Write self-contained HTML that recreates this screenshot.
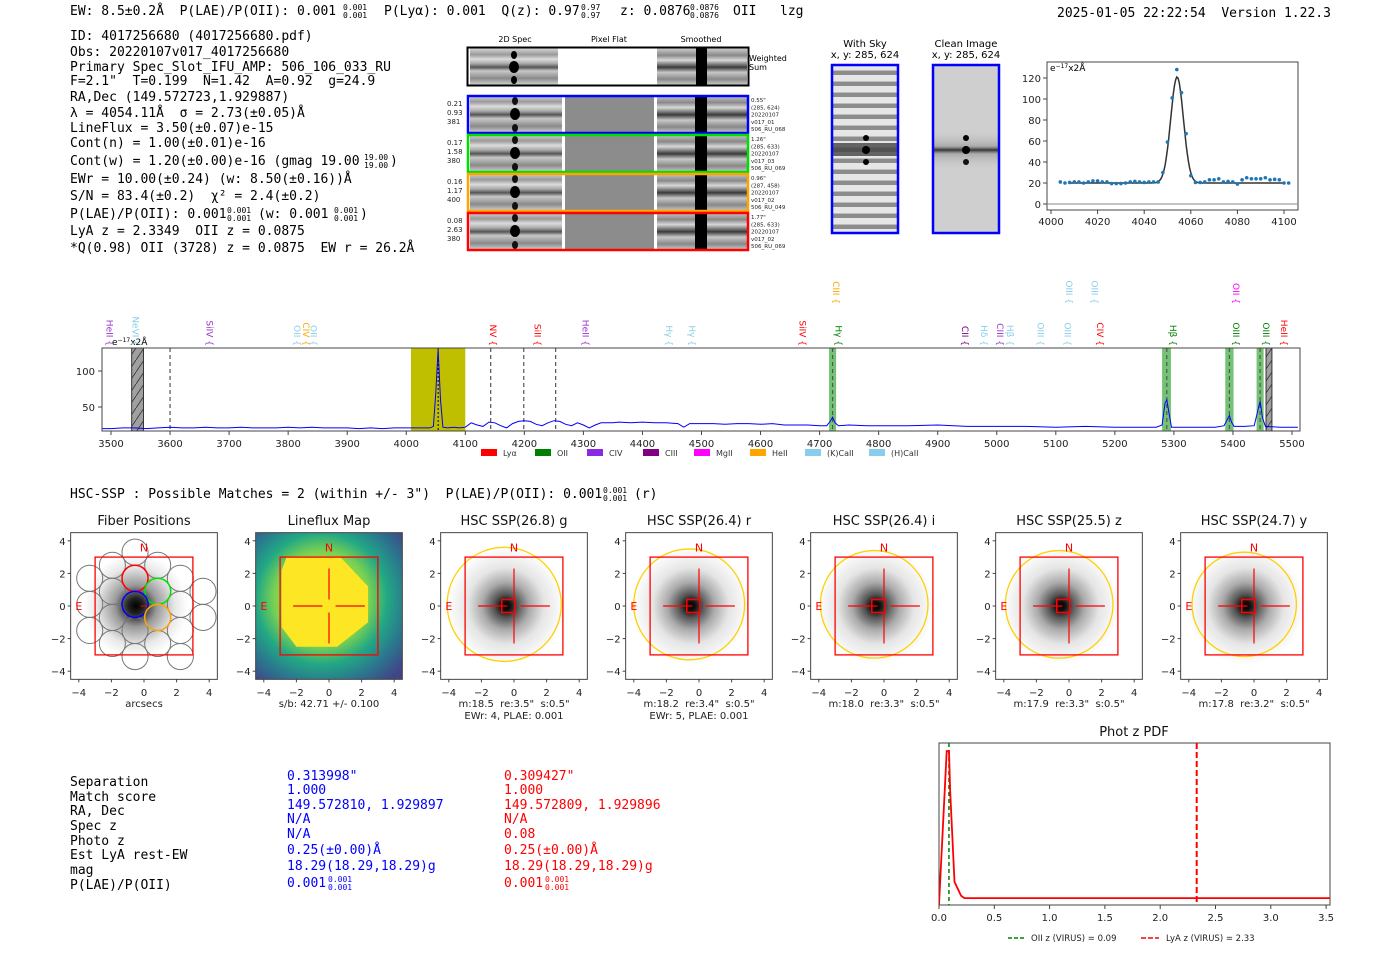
<!DOCTYPE html>
<html><head><meta charset="utf-8"><style>
html,body{margin:0;padding:0;background:#fff}
svg text{font-family:"DejaVu Sans","Liberation Sans",sans-serif;white-space:pre}
svg .mono text{font-family:"DejaVu Sans Mono","Liberation Mono",monospace}
.mono{font-size:13px}
.tk{font-size:10px;fill:#222}
.tt{font-size:13px;fill:#111}
</style></head><body>
<svg id="root" xmlns="http://www.w3.org/2000/svg" xml:space="preserve" width="1400" height="953" viewBox="0 0 1400 953">
<defs>
<linearGradient id="stripe" x1="0" y1="0" x2="0" y2="1">
<stop offset="0" stop-color="#d8d8d8"/><stop offset="0.18" stop-color="#9a9a9a"/><stop offset="0.3" stop-color="#dcdcdc"/><stop offset="0.42" stop-color="#aaa"/><stop offset="0.52" stop-color="#555"/><stop offset="0.62" stop-color="#c8c8c8"/><stop offset="0.82" stop-color="#8a8a8a"/><stop offset="1" stop-color="#d4d4d4"/>
</linearGradient>
<linearGradient id="stripeS" x1="0" y1="0" x2="0" y2="1">
<stop offset="0" stop-color="#d0d0d0"/><stop offset="0.2" stop-color="#888"/><stop offset="0.33" stop-color="#d8d8d8"/><stop offset="0.52" stop-color="#3a3a3a"/><stop offset="0.66" stop-color="#c8c8c8"/><stop offset="0.84" stop-color="#888"/><stop offset="1" stop-color="#ccc"/>
</linearGradient>
<pattern id="skyP" width="68" height="11" patternUnits="userSpaceOnUse">
<rect width="68" height="11" fill="#e6e6e6"/><rect y="5" width="68" height="4" fill="#8c8c8c"/><rect y="4" width="68" height="1" fill="#bbb"/>
</pattern>
<linearGradient id="cleanBand" x1="0" y1="0" x2="0" y2="1">
<stop offset="0" stop-color="#ccc" stop-opacity="0"/><stop offset="0.4" stop-color="#888" stop-opacity="0.5"/><stop offset="0.5" stop-color="#333"/><stop offset="0.6" stop-color="#888" stop-opacity="0.5"/><stop offset="1" stop-color="#ccc" stop-opacity="0"/>
</linearGradient>
<radialGradient id="blob"><stop offset="0" stop-color="#000"/><stop offset="0.08" stop-color="#111"/><stop offset="0.2" stop-color="#555"/><stop offset="0.4" stop-color="#aaa"/><stop offset="0.65" stop-color="#e5e5e5"/><stop offset="1" stop-color="#fff"/></radialGradient>
<radialGradient id="fblob"><stop offset="0" stop-color="#000"/><stop offset="0.15" stop-color="#222"/><stop offset="0.4" stop-color="#999"/><stop offset="0.75" stop-color="#e8e8e8"/><stop offset="1" stop-color="#fff"/></radialGradient>
<radialGradient id="viri" cx="0.45" cy="0.45" r="0.72"><stop offset="0" stop-color="#fde725"/><stop offset="0.45" stop-color="#7ad151"/><stop offset="0.62" stop-color="#22a884"/><stop offset="0.8" stop-color="#2a788e"/><stop offset="1" stop-color="#414487"/></radialGradient>
<pattern id="hatch" width="8" height="12" patternUnits="userSpaceOnUse"><rect width="8" height="12" fill="#a0a0a0"/><line x1="0" y1="12" x2="8" y2="0" stroke="#333" stroke-width="0.8"/></pattern>
<clipPath id="specClip"><rect x="102" y="348" width="1198" height="83"/></clipPath>
<clipPath id="fitClip"><rect x="1047" y="62" width="251" height="148"/></clipPath>
<clipPath id="pdfClip"><rect x="939" y="743" width="391" height="162"/></clipPath>
</defs>

<g class="mono">
<text x="70" y="15">EW: 8.5±0.2Å  P(LAE)/P(OII): 0.001</text>
<text x="343" y="10" font-size="8">0.001</text><text x="343" y="18" font-size="8">0.001</text>
<text x="384" y="15">P(Lyα): 0.001  Q(z): 0.97</text>
<text x="581" y="10" font-size="8">0.97</text><text x="581" y="18" font-size="8">0.97</text>
<text x="620" y="15">z: 0.0876</text>
<text x="690" y="10" font-size="8">0.0876</text><text x="690" y="18" font-size="8">0.0876</text>
<text x="733" y="15">OII</text><text x="780" y="15">lzg</text>
<text x="1057" y="17">2025-01-05 22:22:54  Version 1.22.3</text>
</g>

<g class="mono">
<text x="70" y="40">ID: 4017256680 (4017256680.pdf)</text>
<text x="70" y="56">Obs: 20220107v017_4017256680</text>
<text x="70" y="71">Primary Spec_Slot_IFU_AMP: 506_106_033_RU</text>
<text x="70" y="85">F=2.1"  T=0.199  N=1.42  A=0.92  g=24.9</text>
<text x="70" y="101">RA,Dec (149.572723,1.929887)</text>
<text x="70" y="117">λ = 4054.11Å  σ = 2.73(±0.05)Å</text>
<text x="70" y="132">LineFlux = 3.50(±0.07)e-15</text>
<text x="70" y="147">Cont(n) = 1.00(±0.01)e-16</text>
<text x="70" y="165">Cont(w) = 1.20(±0.00)e-16 (gmag 19.00</text><text x="364" y="160" font-size="8">19.00</text><text x="364" y="168" font-size="8">19.00</text><text x="390" y="165">)</text>
<text x="70" y="183">EWr = 10.00(±0.24) (w: 8.50(±0.16))Å</text>
<text x="70" y="200">S/N = 83.4(±0.2)  χ² = 2.4(±0.2)</text>
<text x="70" y="218">P(LAE)/P(OII): 0.001</text><text x="227" y="213" font-size="8">0.001</text><text x="227" y="221" font-size="8">0.001</text>
<text x="258" y="218">(w: 0.001</text><text x="334" y="213" font-size="8">0.001</text><text x="334" y="221" font-size="8">0.001</text><text x="360" y="218">)</text>
<text x="70" y="235">LyA z = 2.3349  OII z = 0.0875</text>
<text x="70" y="252">*Q(0.98) OII (3728) z = 0.0875  EW r = 26.2Å</text>
</g>

<g>
<text x="515" y="42" font-size="8" text-anchor="middle">2D Spec</text>
<text x="609" y="42" font-size="8" text-anchor="middle">Pixel Flat</text>
<text x="701" y="42" font-size="8" text-anchor="middle">Smoothed</text>
<g>
<rect x="470" y="48" width="88" height="37" fill="url(#stripe)"/>
<rect x="657" y="48" width="90" height="37" fill="url(#stripeS)"/>
<rect x="696" y="48" width="11" height="37" fill="#000"/>
<ellipse cx="514" cy="67" rx="5" ry="6" fill="#000"/><ellipse cx="514" cy="55" rx="3" ry="4" fill="#000"/><ellipse cx="514" cy="80" rx="3" ry="4" fill="#000"/>
<rect x="467.5" y="47.5" width="281" height="38" fill="none" stroke="#000" stroke-width="2"/>
<text x="749" y="61" font-size="8">Weighted</text><text x="749" y="70" font-size="8">Sum</text>
</g>
</g>

<g>
<text x="865" y="47" font-size="10" text-anchor="middle">With Sky</text>
<text x="865" y="58" font-size="10" text-anchor="middle">x, y: 285, 624</text>
<rect x="831" y="64" width="68" height="170" fill="url(#skyP)"/>
<rect x="831" y="143" width="68" height="13" fill="#444" opacity="0.8"/>
<ellipse cx="866" cy="138" rx="3" ry="3" fill="#000"/><ellipse cx="866" cy="150" rx="4" ry="4" fill="#000"/><ellipse cx="866" cy="162" rx="3" ry="3" fill="#000"/>
<rect x="832" y="65" width="66" height="168" fill="none" stroke="#0000ff" stroke-width="2.5"/>
</g>
<g>
<text x="966" y="47" font-size="10" text-anchor="middle">Clean Image</text>
<text x="966" y="58" font-size="10" text-anchor="middle">x, y: 285, 624</text>
<rect x="932" y="64" width="68" height="170" fill="#cfcfcf"/>
<rect x="932" y="130" width="68" height="40" fill="url(#cleanBand)"/>
<ellipse cx="966" cy="138" rx="3" ry="3" fill="#000"/><ellipse cx="966" cy="150" rx="4" ry="4" fill="#000"/><ellipse cx="966" cy="162" rx="3" ry="3" fill="#111"/>
<rect x="933" y="65" width="66" height="168" fill="none" stroke="#0000ff" stroke-width="2.5"/>
</g>

<g id="fitPlot">
<rect x="1047" y="62" width="251" height="148" fill="#fff" stroke="#444" stroke-width="1"/>
<text x="1050" y="71" font-size="9">e<tspan font-size="6" dy="-3">−17</tspan><tspan dy="3">x2Å</tspan></text>
</g>

<g id="specPlot">
<text x="112" y="345" font-size="9">e<tspan font-size="6" dy="-3">−17</tspan><tspan dy="3">x2Å</tspan></text>
</g>

<g class="mono">
<text x="70" y="498">HSC-SSP : Possible Matches = 2 (within +/- 3")  P(LAE)/P(OII): 0.001</text>
<text x="603" y="493" font-size="8">0.001</text><text x="603" y="501" font-size="8">0.001</text>
<text x="634" y="498">(r)</text>
</g>
<g id="panels"></g>

<g class="mono">
<g>
<text x="70" y="786">Separation</text><text x="70" y="801">Match score</text><text x="70" y="815">RA, Dec</text><text x="70" y="830">Spec z</text><text x="70" y="845">Photo z</text><text x="70" y="859">Est LyA rest-EW</text><text x="70" y="874">mag</text><text x="70" y="889">P(LAE)/P(OII)</text>
</g>
<g fill="#0000ff">
<text x="287" y="780">0.313998"</text><text x="287" y="794">1.000</text><text x="287" y="809">149.572810, 1.929897</text><text x="287" y="823">N/A</text><text x="287" y="838">N/A</text><text x="287" y="854">0.25(±0.00)Å</text><text x="287" y="870">18.29(18.29,18.29)g</text><text x="287" y="887">0.001</text><text x="328" y="882" font-size="8">0.001</text><text x="328" y="890" font-size="8">0.001</text>
</g>
<g fill="#ff0000">
<text x="504" y="780">0.309427"</text><text x="504" y="794">1.000</text><text x="504" y="809">149.572809, 1.929896</text><text x="504" y="823">N/A</text><text x="504" y="838">0.08</text><text x="504" y="854">0.25(±0.00)Å</text><text x="504" y="870">18.29(18.29,18.29)g</text><text x="504" y="887">0.001</text><text x="545" y="882" font-size="8">0.001</text><text x="545" y="890" font-size="8">0.001</text>
</g>
</g>

<g id="pdfPlot">
<text x="1134" y="736" class="tt" text-anchor="middle">Phot z PDF</text>
<rect x="939" y="743" width="391" height="162" fill="#fff" stroke="#444"/>
</g>
</svg>

<script>
const specWave=[3480,3500,3520,3540,3560,3580,3600,3620,3640,3660,3680,3700,3720,3740,3760,3780,3800,3820,3840,3860,3880,3900,3920,3940,3960,3980,4000,4020,4040,4046,4050,4054,4058,4062,4070,4080,4090,4100,4110,4120,4130,4140,4150,4160,4170,4180,4190,4200,4210,4220,4230,4240,4250,4260,4270,4280,4290,4300,4310,4320,4330,4340,4350,4360,4380,4400,4420,4440,4460,4470,4480,4500,4520,4540,4560,4580,4600,4620,4640,4660,4680,4700,4712,4718,4722,4726,4732,4750,4780,4800,4850,4900,4950,5000,5050,5100,5150,5200,5250,5270,5280,5285,5288,5292,5296,5310,5340,5370,5385,5390,5394,5398,5402,5420,5436,5442,5446,5450,5455,5480,5510];
const specFlux=[20,20,21,21,20,21,22,21,21,22,21,21,22,21,21,21,22,21,22,21,21,21,20,21,20,21,21,21,21,23,70,130,60,22,21,22,21,22,28,25,23,29,28,24,21,27,30,31,30,26,24,28,31,30,26,24,28,25,21,25,28,28,28,29,28,29,28,28,27,22,27,27,27,26,27,27,26,27,25,25,25,24,24,30,36,28,24,25,24,24,24,25,23,23,23,22,23,22,22,22,25,55,60,40,22,22,22,22,24,32,38,28,23,23,24,45,58,35,23,22,22];
const specTicksX=[3500,3600,3700,3800,3900,4000,4100,4200,4300,4400,4500,4600,4700,4800,4900,5000,5100,5200,5300,5400,5500];
const specTicksY=[50,100];
const bandStart=[3535,4008,4716,5280,5387,5440,5456];
const bandEnd=[3555,4100,4728,5295,5401,5452,5466];
const bandKind=['mask','fit','line','line','line','line','mask'];
const dashWave=[3600,4143,4199,4253,4722,5288,5394,5446];
const lineWave=[3487,3531,3657,3805,3820,3833,4137,4212,4293,4435,4474,4661,4718,4722,4936,4968,4995,5012,5064,5110,5112,5155,5165,5288,5395,5395,5446,5476];
const lineName=['HeII','NeVI','SiIV','OII','CIV','OII','NV','SiII','HeII','Hγ','Hγ','SiIV','CIII','Hγ','CII','Hδ','CIII','Hβ','OIII','OIII','OIII','OIII','CIV','Hβ','OII','OIII','OIII','HeII'];
const lineColor=['#9932cc','#87ceeb','#9932cc','#87ceeb','#ffa500','#87ceeb','#ff0000','#ff0000','#9932cc','#87ceeb','#87ceeb','#ff0000','#ffa500','#008000','#800080','#87ceeb','#9932cc','#87ceeb','#87ceeb','#87ceeb','#87ceeb','#87ceeb','#ff0000','#008000','#ff00ff','#008000','#008000','#ff0000'];
const lineRow=[1,1,1,1,1,1,1,1,1,1,1,1,0,1,1,1,1,1,1,1,0,0,1,1,0,1,1,1];
const legendNames=['Lyα','OII','CIV','CIII','MgII','HeII','(K)CaII','(H)CaII'];
const legendColors=['#ff0000','#008000','#8a2be2','#800080','#ff00ff','#ffa500','#87ceeb','#87ceeb'];

const fitWave=[4004,4006,4008,4010,4012,4014,4016,4018,4020,4022,4024,4026,4028,4030,4032,4034,4036,4038,4040,4042,4044,4046,4048,4050,4052,4054,4056,4058,4060,4062,4064,4066,4068,4070,4072,4074,4076,4078,4080,4082,4084,4086,4088,4090,4092,4094,4096,4098,4100,4102];
const fitFlux=[21,20,20.5,21,21,20,21,22,22,21,21,19.5,19.5,19.5,20,21,21.5,21,20.5,21,21,21,30,59,101,128,106,67,27,20.5,20.5,21,23,23,24,21,21.5,21,19,23,25,24,24,24,25,23,23.5,23,20,20];
const fitCenter=[4054.11], fitSigma=[2.73], fitAmp=[101], fitCont=[20];
const fitTicksX=[4000,4020,4040,4060,4080,4100];
const fitTicksY=[0,20,40,60,80,100,120];

const pdfZ=[0,0.07,0.09,0.1,0.14,0.2,0.23,3.6];
const pdfP=[0,1.0,1.0,0.75,0.15,0.06,0.045,0.045];
const pdfTicks=[0,0.5,1.0,1.5,2.0,2.5,3.0,3.5];
const oiiZ=[0.09], lyaZ=[2.33];

const panelTitles=['Fiber Positions','Lineflux Map','HSC SSP(26.8) g','HSC SSP(26.4) r','HSC SSP(26.4) i','HSC SSP(25.5) z','HSC SSP(24.7) y'];
const panelSub1=['arcsecs','s/b: 42.71 +/- 0.100','m:18.5  re:3.5"  s:0.5"','m:18.2  re:3.4"  s:0.5"','m:18.0  re:3.3"  s:0.5"','m:17.9  re:3.3"  s:0.5"','m:17.8  re:3.2"  s:0.5"'];
const panelSub2=['','','EWr: 4, PLAE: 0.001','EWr: 5, PLAE: 0.001','','',''];
const apRadius=[0,0,3.5,3.4,3.3,3.3,3.2];

const NS='http://www.w3.org/2000/svg';
function mk(tag,attrs,parent){const e=document.createElementNS(NS,tag);for(const k in attrs)e.setAttribute(k,attrs[k]);parent.appendChild(e);return e;}
function txt(s,attrs,parent){const e=mk('text',attrs,parent);e.textContent=s;return e;}

const root=document.getElementById('root');
const rowTop=[95,134,173,212];
const rowColor=['#0000ff','#00e000','#ffa500','#ff0000'];
const rowL=[['0.21','0.93','381'],['0.17','1.58','380'],['0.16','1.17','400'],['0.08','2.63','380']];
const rowR=[['0.55"','(285, 624)','20220107','v017_01','506_RU_068'],['1.26"','(285, 633)','20220107','v017_03','506_RU_069'],['0.96"','(287, 458)','20220107','v017_02','506_RU_049'],['1.77"','(285, 633)','20220107','v017_02','506_RU_069']];
for(let i=0;i<4;i++){
  const t=rowTop[i];
  const g=mk('g',{},root);
  
  
  mk('rect',{x:470,y:t,width:92,height:38,fill:'url(#stripe)'},g);
  mk('rect',{x:565,y:t,width:89,height:38,fill:'#8c8c8c'},g);
  mk('rect',{x:657,y:t,width:90,height:38,fill:'url(#stripeS)'},g);
  mk('rect',{x:695,y:t,width:12,height:38,fill:'#000'},g);
  mk('ellipse',{cx:515,cy:t+19,rx:5,ry:6,fill:'#000'},g);
  mk('ellipse',{cx:515,cy:t+6,rx:3,ry:4,fill:'#111'},g);
  mk('ellipse',{cx:515,cy:t+33,rx:3,ry:4,fill:'#111'},g);
  mk('rect',{x:468,y:t+1,width:280,height:37,fill:'none',stroke:rowColor[i],'stroke-width':2.5},g);
  for(let k=0;k<3;k++) txt(rowL[i][k],{x:447,y:t+11+k*9,'font-size':7,fill:'#222'},g);
  for(let k=0;k<5;k++) txt(rowR[i][k],{x:751,y:t+7+k*7.3,'font-size':5.5,fill:'#222'},g);
}

const sp=document.getElementById('specPlot');
const sx=w=>111+(w-3500)*0.5905, sy=v=>371+(100-v)*0.72;
mk('rect',{x:102,y:348,width:1198,height:83,fill:'#fff',stroke:'#444'},sp);
for(let i=0;i<bandStart.length;i++){
  const f=bandKind[i]==='fit'?'#bfbf00':bandKind[i]==='line'?'#5cb85c':'url(#hatch)';
  const r=mk('rect',{x:sx(bandStart[i]),y:348,width:sx(bandEnd[i])-sx(bandStart[i]),height:83,fill:f,stroke:bandKind[i]==='mask'?'#333':'none','fill-opacity':bandKind[i]==='line'?0.85:1,'clip-path':'url(#specClip)'},sp);
  
  
}
for(let i=0;i<dashWave.length;i++){
  const l=mk('line',{x1:sx(dashWave[i]),x2:sx(dashWave[i]),y1:348,y2:431,stroke:'#555','stroke-dasharray':'4,3','stroke-width':1.2},sp);
  
  
}
const dl=mk('line',{x1:sx(4054),x2:sx(4054),y1:348,y2:431,stroke:'#000','stroke-dasharray':'2,2'},sp);


let d='';
for(let i=0;i<specWave.length;i++) d+=(i?'L':'M')+sx(specWave[i]).toFixed(1)+','+sy(specFlux[i]).toFixed(1);
const sl=mk('path',{d:d,fill:'none',stroke:'#0000ff','stroke-width':1,'clip-path':'url(#specClip)'},sp);


mk('rect',{x:102,y:348,width:1198,height:83,fill:'none',stroke:'#444'},sp);
for(const t of specTicksX){
  mk('line',{x1:sx(t),x2:sx(t),y1:431,y2:435,stroke:'#444'},sp);
  const e=txt(String(t),{x:sx(t),y:447,'text-anchor':'middle',class:'tk'},sp);
  
  
}
for(const t of specTicksY){
  mk('line',{x1:98,x2:102,y1:sy(t),y2:sy(t),stroke:'#444'},sp);
  const e=txt(String(t),{x:95,y:sy(t)+4,'text-anchor':'end',class:'tk'},sp);
  
  
}
for(let i=0;i<lineWave.length;i++){
  const x=sx(lineWave[i])+3, yb=lineRow[i]?346:304;
  const e=txt(lineName[i]+' {',{transform:'translate('+x+','+yb+') rotate(90)','text-anchor':'end','font-size':9,fill:lineColor[i]},sp);
  
  
}
const lgX=[481,535,587,643,694,750,805,869];
for(let i=0;i<legendNames.length;i++){
  const g=mk('g',{},sp);
  
  
  mk('rect',{x:lgX[i],y:449,width:16,height:7,fill:legendColors[i]},g);
  txt(legendNames[i],{x:lgX[i]+22,y:456,'font-size':8,fill:'#333'},g);
}

const fp=document.getElementById('fitPlot');
const fx=w=>1051+(w-4000)*2.33, fy=v=>204-v*1.05;
mk('line',{x1:1047,x2:1298,y1:fy(0),y2:fy(0),stroke:'#888'},fp);
let fd='';
for(let w=4008;w<=4100;w+=0.5){const v=fitCont[0]+fitAmp[0]*Math.exp(-0.5*Math.pow((w-fitCenter[0])/fitSigma[0],2));fd+=(fd?'L':'M')+fx(w).toFixed(1)+','+fy(v).toFixed(1);}
const fl=mk('path',{d:fd,fill:'none',stroke:'#333','stroke-width':1.5,'clip-path':'url(#fitClip)'},fp);


for(let i=0;i<fitWave.length;i++){
  const c=mk('circle',{cx:fx(fitWave[i]),cy:fy(fitFlux[i]),r:1.8,fill:'#1f77b4'},fp);
  
  
}
for(const t of fitTicksX){
  mk('line',{x1:fx(t),x2:fx(t),y1:210,y2:214,stroke:'#444'},fp);
  const e=txt(String(t),{x:fx(t),y:225,'text-anchor':'middle',class:'tk'},fp);
  
  
}
for(const t of fitTicksY){
  mk('line',{x1:1043,x2:1047,y1:fy(t),y2:fy(t),stroke:'#444'},fp);
  const e=txt(String(t),{x:1041,y:fy(t)+4,'text-anchor':'end',class:'tk'},fp);
  
  
}

const pn=document.getElementById('panels');
const U=16.3, PY=606;
const panelX=[144,329,514,699,884,1069,1254];
for(let p=0;p<7;p++){
  const X=panelX[p];
  const ux=v=>X+v*U, uy=v=>PY-v*U;
  const g=mk('g',{},pn);
  
  
  const cp=mk('clipPath',{id:'pc'+p},g);
  mk('rect',{x:ux(-4.5),y:uy(4.5),width:9*U,height:9*U},cp);
  const inner=mk('g',{'clip-path':'url(#pc'+p+')'},g);
  if(p===1){
    mk('rect',{x:ux(-4.5),y:uy(4.5),width:9*U,height:9*U,fill:'url(#viri)'},inner);
    const poly=[[-2.6,3.0],[0.7,3.0],[2.4,1.2],[2.4,-1.0],[0.5,-2.5],[-2.0,-2.5],[-2.9,-1.3],[-2.9,2.2]].map(a=>ux(a[0])+','+uy(a[1])).join(' ');
    mk('polygon',{points:poly,fill:'#fde725'},inner);
  } else {
    mk('rect',{x:ux(-4.5),y:uy(4.5),width:9*U,height:9*U,fill:'#fff'},inner);
    mk('circle',{cx:ux(-0.5),cy:uy(0),r:(p===0?3.2:3.6)*U,fill:p===0?'url(#fblob)':'url(#blob)'},inner);
  }
  if(p===0){
    for(let i=-4;i<=4;i++)for(let j=-4;j<=4;j++){
      const cx=-0.55+1.39*i, cy=0.1+1.6*j+(Math.abs(i)%2?0.8:0);
      if(Math.hypot(cx+0.1,cy)>3.9) continue;
      mk('circle',{cx:ux(cx),cy:uy(cy),r:0.8*U,fill:'none',stroke:'#777','stroke-width':1},inner);
    }
    const fc=[[-0.55,1.7,'#ff0000'],[0.84,0.9,'#00e000'],[-0.55,0.1,'#0000ff'],[0.84,-0.7,'#ffa500']];
    for(const f of fc) mk('circle',{cx:ux(f[0]),cy:uy(f[1]),r:0.8*U,fill:'none',stroke:f[2],'stroke-width':1.5},inner);
    mk('line',{x1:ux(-0.2),x2:ux(0.2),y1:uy(0),y2:uy(0),stroke:'#f00'},inner);
  }
  if(p>=2){
    mk('circle',{cx:ux(-0.6),cy:uy(0.1),r:apRadius[p]*U,fill:'none',stroke:'#ffd000','stroke-width':1.3},inner);
    mk('rect',{x:ux(-0.75),y:uy(0.4),width:0.8*U,height:0.8*U,fill:'none',stroke:'#f00','stroke-width':1.5},inner);
  }
  if(p>=1){
    mk('line',{x1:ux(-2.2),x2:ux(-0.4),y1:uy(0),y2:uy(0),stroke:'#f00','stroke-width':1.2},inner);
    mk('line',{x1:ux(0.4),x2:ux(2.2),y1:uy(0),y2:uy(0),stroke:'#f00','stroke-width':1.2},inner);
    mk('line',{x1:ux(0),x2:ux(0),y1:uy(2.3),y2:uy(0.4),stroke:'#f00','stroke-width':1.2},inner);
    mk('line',{x1:ux(0),x2:ux(0),y1:uy(-0.4),y2:uy(-2.3),stroke:'#f00','stroke-width':1.2},inner);
  }
  mk('rect',{x:ux(-3),y:uy(3),width:6*U,height:6*U,fill:'none',stroke:'#f00','stroke-width':1.3},inner);
  txt('N',{x:ux(0),y:uy(3.6)+4,'text-anchor':'middle','font-size':11,fill:'#f00'},inner);
  txt('E',{x:ux(-4),y:uy(0)+4,'text-anchor':'middle','font-size':11,fill:'#f00'},inner);
  mk('rect',{x:ux(-4.5),y:uy(4.5),width:9*U,height:9*U,fill:'none',stroke:'#444'},g);
  const tt=txt(panelTitles[p],{x:X,y:525,'text-anchor':'middle',class:'tt'},g);
  
  
  for(const t of [-4,-2,0,2,4]){
    mk('line',{x1:ux(t),x2:ux(t),y1:uy(-4.5),y2:uy(-4.5)+3,stroke:'#444'},g);
    txt(t<0?'−'+(-t):String(t),{x:ux(t),y:696,'text-anchor':'middle',class:'tk'},g);
    mk('line',{x1:ux(-4.5)-3,x2:ux(-4.5),y1:uy(t),y2:uy(t),stroke:'#444'},g);
    txt(t<0?'−'+(-t):String(t),{x:ux(-4.5)-5,y:uy(t)+4,'text-anchor':'end',class:'tk'},g);
  }
  txt(panelSub1[p],{x:X,y:707,'text-anchor':'middle',class:'tk'},g);
  if(panelSub2[p]) txt(panelSub2[p],{x:X,y:719,'text-anchor':'middle',class:'tk'},g);
}

const pp=document.getElementById('pdfPlot');
const zx=z=>939+z*110.6, zy=v=>905-v*154;
const gl=mk('line',{x1:zx(oiiZ[0]),x2:zx(oiiZ[0]),y1:743,y2:905,stroke:'#008000','stroke-dasharray':'4,3','stroke-width':1.5},pp);


const rl=mk('line',{x1:zx(lyaZ[0]),x2:zx(lyaZ[0]),y1:743,y2:905,stroke:'#ff0000','stroke-dasharray':'6,3','stroke-width':2},pp);


let pd='';
for(let i=0;i<pdfZ.length;i++) pd+=(i?'L':'M')+zx(pdfZ[i]).toFixed(1)+','+zy(pdfP[i]).toFixed(1);
const pl=mk('path',{d:pd,fill:'none',stroke:'#ff0000','stroke-width':1.8,'clip-path':'url(#pdfClip)'},pp);


for(const t of pdfTicks){
  mk('line',{x1:zx(t),x2:zx(t),y1:905,y2:909,stroke:'#444'},pp);
  const e=txt(t.toFixed(1),{x:zx(t),y:921,'text-anchor':'middle',class:'tk'},pp);
  
  
}
const lg1=mk('g',{},pp);


mk('line',{x1:1008,x2:1026,y1:938,y2:938,stroke:'#008000','stroke-dasharray':'4,2','stroke-width':1.5},lg1);
txt('OII z (VIRUS) = 0.09',{x:1031,y:941,'font-size':8.5,fill:'#222'},lg1);
const lg2=mk('g',{},pp);


mk('line',{x1:1141,x2:1159,y1:938,y2:938,stroke:'#ff0000','stroke-dasharray':'5,2','stroke-width':1.5},lg2);
txt('LyA z (VIRUS) = 2.33',{x:1166,y:941,'font-size':8.5,fill:'#222'},lg2);
</script>
</body></html>
